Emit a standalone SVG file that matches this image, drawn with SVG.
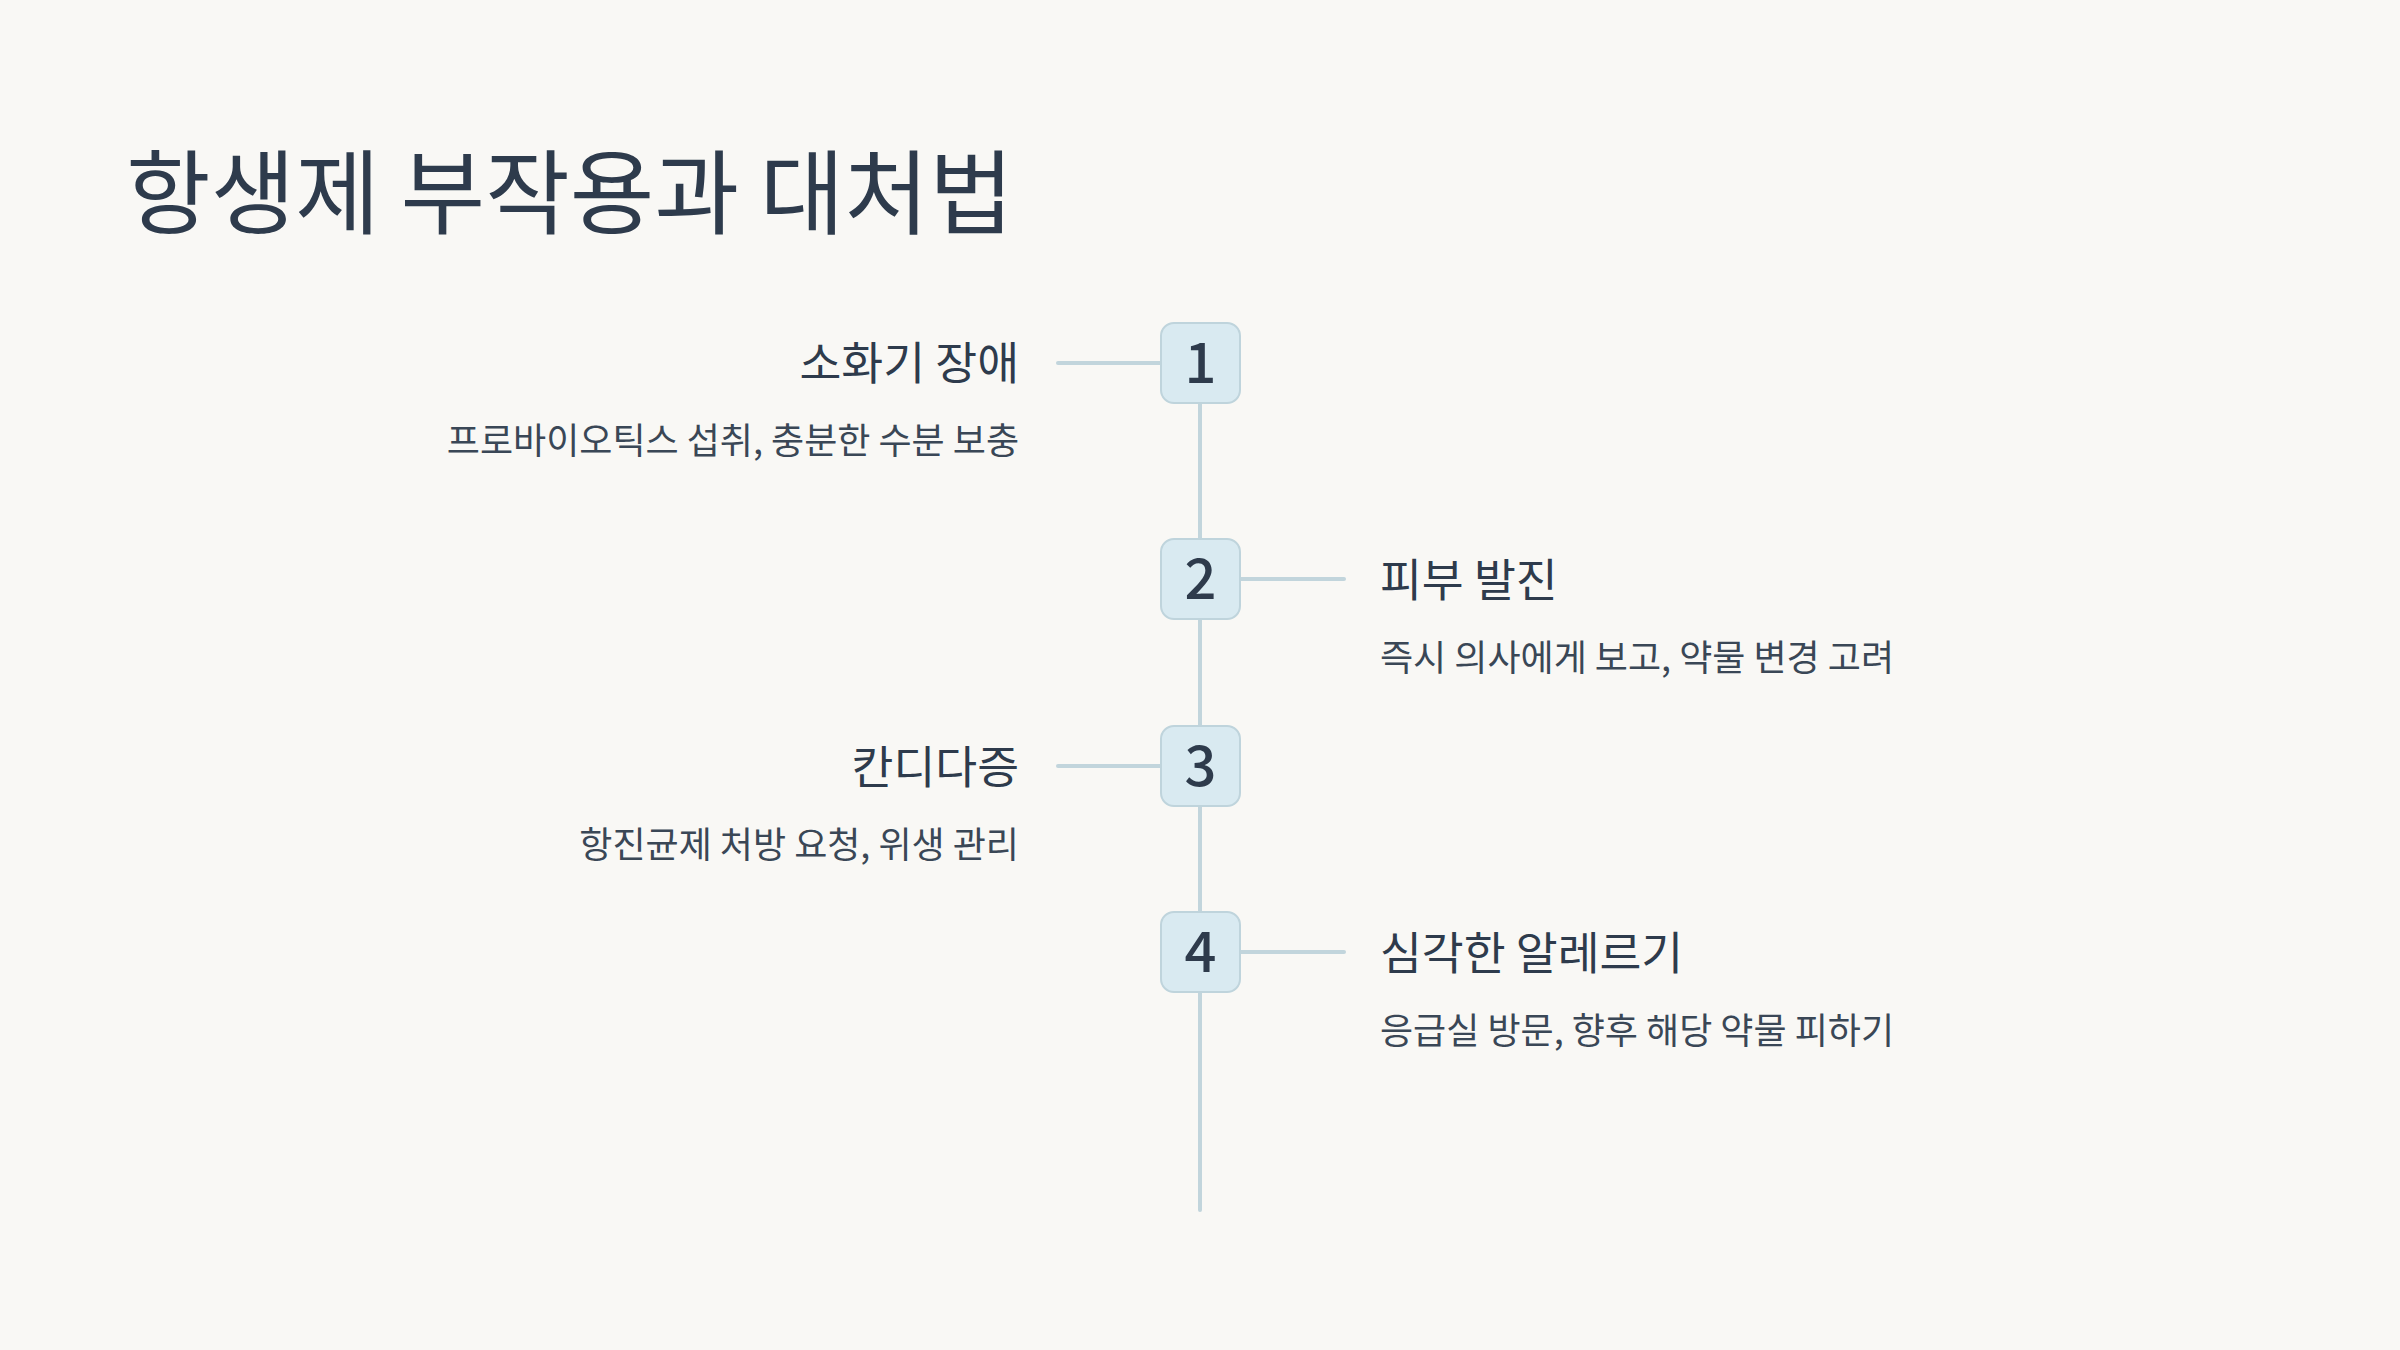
<svg xmlns="http://www.w3.org/2000/svg" width="2400" height="1350" viewBox="0 0 2400 1350">
<style>
text{font-family:"Noto Sans CJK KR","Noto Sans",sans-serif;fill:#2e3b4c}
.title{font-size:92px}
.h{font-size:45.5px}
.d{font-size:36px;fill:#3a4756}
.num{font-size:56px;text-anchor:middle;font-weight:500}
.box{fill:#d9eaf1;stroke:#bfd4dc;stroke-width:2}
.ln{stroke:#c2d5dc;stroke-width:4;stroke-linecap:round;fill:none}
.end{text-anchor:end}
</style>
<rect width="2400" height="1350" fill="#f9f8f5"/>
<text class="title" x="126" y="227">항생제 부작용과 대처법</text>
<g id="connectors">
<line class="ln" x1="1200" y1="403" x2="1200" y2="1210"/>
<line class="ln" x1="1058" y1="363" x2="1160" y2="363"/>
<line class="ln" x1="1240" y1="579" x2="1344" y2="579"/>
<line class="ln" x1="1058" y1="766" x2="1160" y2="766"/>
<line class="ln" x1="1240" y1="952" x2="1344" y2="952"/>
</g>
<g id="node1">
<rect class="box" x="1161" y="323" width="79" height="80" rx="13"/>
<text class="num" x="1200.5" y="383">1</text>
<text class="h end" x="1019" y="380">소화기 장애</text>
<text class="d end" x="1019" y="454">프로바이오틱스 섭취, 충분한 수분 보충</text>
</g>
<g id="node2">
<rect class="box" x="1161" y="539" width="79" height="80" rx="13"/>
<text class="num" x="1200.5" y="599">2</text>
<text class="h" x="1380" y="597">피부 발진</text>
<text class="d" x="1380" y="671">즉시 의사에게 보고, 약물 변경 고려</text>
</g>
<g id="node3">
<rect class="box" x="1161" y="726" width="79" height="80" rx="13"/>
<text class="num" x="1200.5" y="786">3</text>
<text class="h end" x="1019" y="784">칸디다증</text>
<text class="d end" x="1019" y="858">항진균제 처방 요청, 위생 관리</text>
</g>
<g id="node4">
<rect class="box" x="1161" y="912" width="79" height="80" rx="13"/>
<text class="num" x="1200.5" y="972">4</text>
<text class="h" x="1380" y="970">심각한 알레르기</text>
<text class="d" x="1380" y="1044">응급실 방문, 향후 해당 약물 피하기</text>
</g>
</svg>
